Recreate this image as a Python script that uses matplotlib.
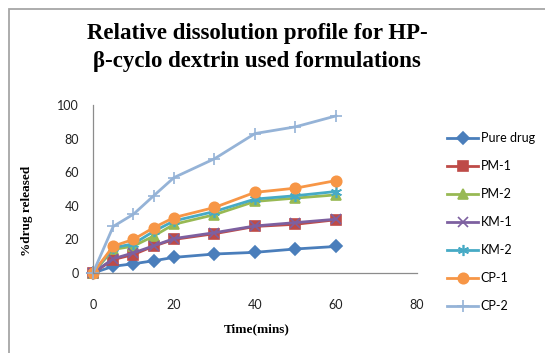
import matplotlib
matplotlib.use("Agg")
import matplotlib.pyplot as plt
from matplotlib.patches import Rectangle

# sampling times (mins)
time_mins = [0, 5, 10, 15, 20, 30, 40, 50, 60]

# % drug released for each formulation
pure_drug = [0, 4.0, 5.5, 7.3, 9.3, 11.3, 12.3, 14.3, 15.8]
pm_1 = [0, 8.0, 11.0, 16.0, 20.0, 23.4, 27.7, 29.0, 31.7]
pm_2 = [0, 14.0, 16.0, 22.0, 29.0, 34.7, 42.6, 44.6, 46.5]
km_1 = [0, 8.5, 12.0, 16.2, 20.5, 24.0, 28.0, 30.0, 32.0]
km_2 = [0, 15.0, 17.4, 24.8, 31.0, 36.6, 44.0, 46.0, 48.5]
cp_1 = [0, 16.0, 20.0, 27.0, 33.0, 39.0, 48.0, 50.5, 55.0]
cp_2 = [0, 27.7, 35.0, 46.0, 56.8, 68.0, 83.0, 87.0, 93.5]

labels = ["Pure drug", "PM-1", "PM-2", "KM-1", "KM-2", "CP-1", "CP-2"]
series = [pure_drug, pm_1, pm_2, km_1, km_2, cp_1, cp_2]

colors = ["#4A7EBB", "#BE4B48", "#98B954", "#7D60A0", "#46AAC5", "#F79646", "#95B3D7"]
markers = ["D", "s", "^", "x", (6, 2, 0), "o", "+"]
msizes = [6, 7, 7.5, 7, 8, 7.5, 9]

fig = plt.figure(figsize=(5.45, 3.53), dpi=100)
ax = fig.add_axes([0.1706, 0.2266, 0.5945, 0.476])

for vals, lab, c, m, ms in zip(series, labels, colors, markers, msizes):
    ax.plot(time_mins, vals, color=c, lw=2.0, marker=m, ms=ms,
            markerfacecolor=c, markeredgecolor=c, mew=1.2, label=lab,
            clip_on=False)

ax.set_xlim(0, 80)
ax.set_ylim(0, 100)
ax.set_xticks([0, 20, 40, 60, 80])
ax.set_yticks([0, 20, 40, 60, 80, 100])
ax.tick_params(length=0, labelsize=9, colors="#222222")
ax.tick_params(axis="x", pad=19)
ax.tick_params(axis="y", pad=10)
for lbl in ax.get_xticklabels() + ax.get_yticklabels():
    lbl.set_family("Lato")
for side in ["top", "right"]:
    ax.spines[side].set_visible(False)
for side in ["left", "bottom"]:
    ax.spines[side].set_color("#8C8C8C")
    ax.spines[side].set_linewidth(0.9)

ax.set_xlabel("Time(mins)", family="Liberation Serif", fontweight="bold", fontsize=9.5)
ax.xaxis.set_label_coords(0.505, -0.30)
ax.set_ylabel("%drug released", family="Liberation Serif", fontweight="bold", fontsize=9.5)
ax.yaxis.set_label_coords(-0.186, 0.37)

fig.text(0.472, 1 - 33 / 353, "Relative dissolution profile for HP-",
         ha="center", va="center", family="Liberation Serif",
         fontweight="bold", fontsize=16.5)
fig.text(0.472, 1 - 61 / 353, "\u03b2-cyclo dextrin used formulations",
         ha="center", va="center", family="Liberation Serif",
         fontweight="bold", fontsize=16.5)

leg = fig.legend(loc="center left", bbox_to_anchor=(447 / 545, 1 - 222.5 / 353),
                 frameon=False, borderaxespad=0, borderpad=0,
                 handlelength=2.5, handletextpad=0.2, labelspacing=1.28,
                 prop={"family": "Lato", "size": 9})

# outer chart frame
fig.patches.append(Rectangle((9 / 545, -0.1), 1.2, 1 - 9.5 / 353 + 0.1,
                             transform=fig.transFigure, fill=False,
                             edgecolor="#A6A6A6", lw=1.3))

fig.savefig("out.png", dpi=100)
